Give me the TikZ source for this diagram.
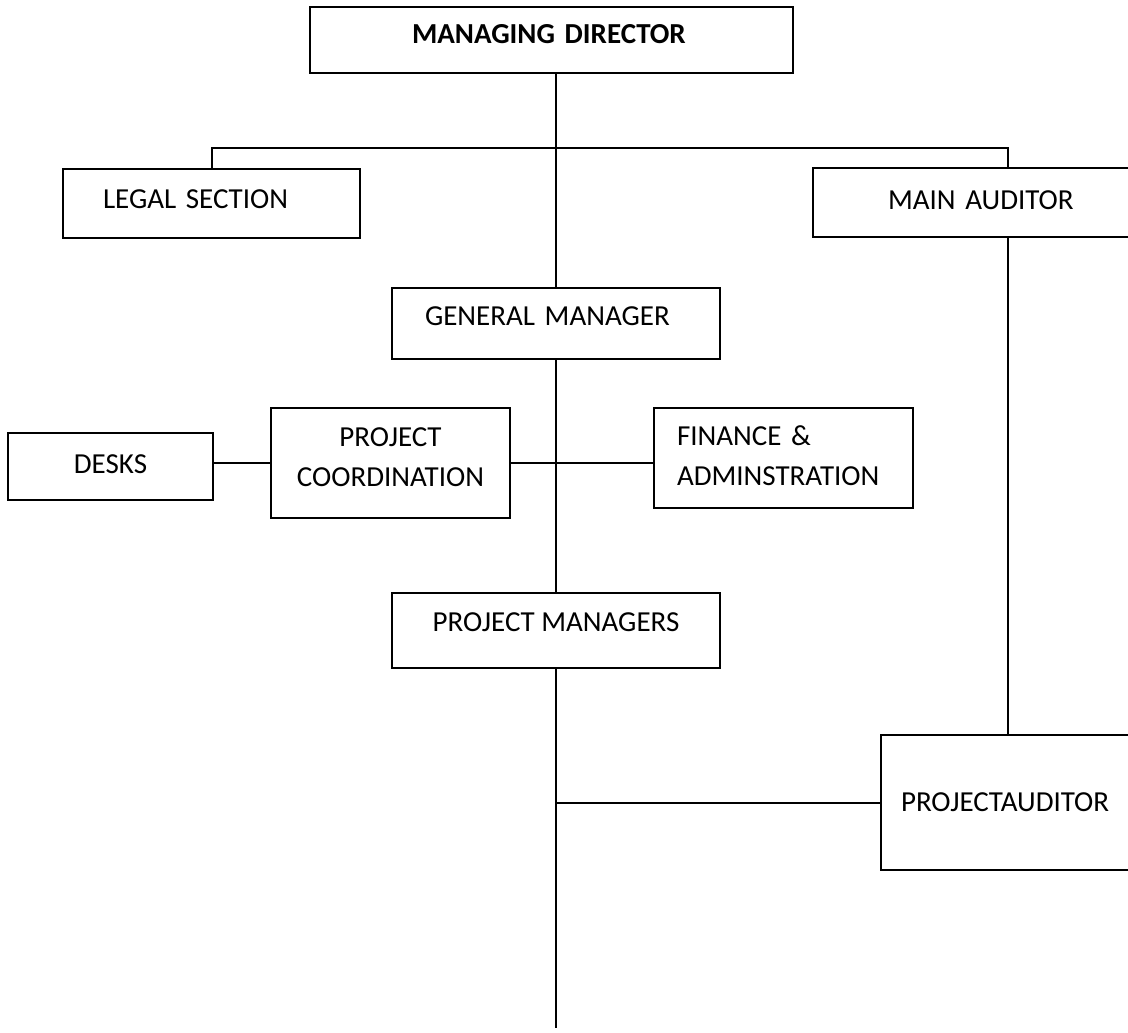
\documentclass[tikz,border=0pt]{standalone}
\usepackage{fontspec}
\setmainfont{Carlito}
\usetikzlibrary{positioning, calc}
\tikzset{
  unit/.style={
    rectangle, draw=black, line width=2pt, inner ysep=0pt,
    font=\fontsize{29}{40}\selectfont, text depth=12pt
  },
  padded/.style 2 args={
    align=left, inner xsep=#1, text width=#2
  },
  link/.style={
    line width=2pt, color=black
  }
}

\begin{document}
\begin{tikzpicture}[x=1pt, y=-1pt]
  \useasboundingbox (0,0) rectangle (1128,1033);
  \clip (0,0) rectangle (1128,1033);

  % Top level
  \node[unit, padded={102pt}{279pt}, minimum height=66pt,
    font=\fontsize{29}{40}\selectfont\bfseries] (md) at (551.5,40) {MANAGING DIRECTOR};
  \node[unit, padded={40pt}{217pt}, minimum height=69pt, text depth=9pt] (legal) at (211.5,203.5) {LEGAL SECTION};
  \node[unit, padded={75pt}{240pt}, minimum height=69pt, text depth=5pt] (ma) at (1008,202.5) {MAIN AUDITOR};

  % Management line
  \node[unit, padded={33pt}{262pt}, minimum height=71pt, text depth=15pt] (gm) at (556,323.5) {GENERAL MANAGER};
  \node[unit, minimum width=205pt, minimum height=67pt, text depth=5pt] (desks) at (110.5,466.5) {DESKS};
  \node[unit, align=center, minimum width=239pt, minimum height=110pt, text depth=11pt] (pc) at (390.5,463) {PROJECT\\COORDINATION};
  \node[unit, padded={23pt}{213pt}, minimum height=100pt, text depth=44pt] (fa) at (783.5,458) {FINANCE \&\\ADMINSTRATION};
  \node[unit, minimum width=328pt, minimum height=75pt, text depth=16pt] (pm) at (556,630.5) {PROJECT MANAGERS};
  \node[unit, padded={20pt}{214pt}, minimum height=135pt, text depth=0pt] (pa) at (1008,802.5) {PROJECTAUDITOR};

  % Connectors
  \coordinate (bus) at (556,148);
  \coordinate (tail) at (556,1028);
  \draw[link] (md.south -| gm.north) -- (gm.north);
  \draw[link] (legal.north) |- (bus) -| (ma.north);
  \draw[link] (ma.south) -- (pa.north);
  \draw[link] (gm.south) -- (pm.north);
  \draw[link] (pc.west -| desks.east) -- (pc.west);
  \draw[link] (pc.east) -- (pc.east -| fa.west);
  \draw[link] (pm.south) -- (tail);
  \draw[link] (pa.west) -- (pa.west -| tail);

\end{tikzpicture}
\end{document}
